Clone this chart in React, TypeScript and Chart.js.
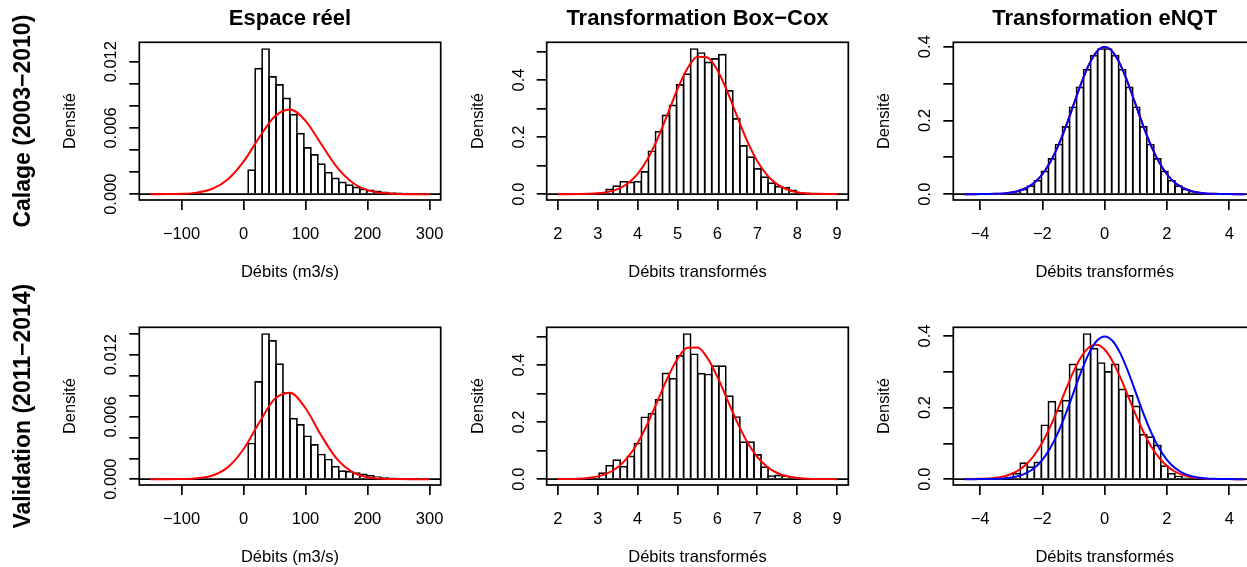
import React, { useEffect, useRef } from "react";
import { Chart, registerables } from "chart.js";

Chart.register(...registerables);

// ---------------- data ----------------
const colTitles = ["Espace réel", "Transformation Box−Cox", "Transformation eNQT"];
const xTitles = ["Débits (m3/s)", "Débits transformés", "Débits transformés"];
const rowLabels = ["Calage (2003−2010)", "Validation (2011−2014)"];
const yTitle = "Densité";

const realXTicks = [-100, 0, 100, 200, 300];
const bcXTicks = [2, 3, 4, 5, 6, 7, 8, 9];
const nqtXTicks = [-4, -2, 0, 2, 4];

const realCalYTicks = [0, 0.002, 0.004, 0.006, 0.008, 0.01, 0.012];
const realValYTicks = [0, 0.002, 0.004, 0.006, 0.008, 0.01, 0.012, 0.014];
const realYLabels = [0, 0.006, 0.012];
const bcYTicks = [0, 0.1, 0.2, 0.3, 0.4, 0.5];
const nqtYTicks = [0, 0.1, 0.2, 0.3, 0.4];
const unitYLabels = [0, 0.2, 0.4];

// histogram bins (start of first bin, width) and densities
const realBinWidth = 11.25;
const realCalBinStart = 7.5;
const realCalDensity = [
  0.00226, 0.01146, 0.01323, 0.01071, 0.00998, 0.00875, 0.00728, 0.00556, 0.00427, 0.00364,
  0.0028, 0.00202, 0.0015, 0.00114, 0.0009, 0.00069, 0.00051, 0.00042, 0.00033, 0.00024,
  0.00018, 0.00015, 0.00012, 0.00009, 0.00006, 0.00006,
];
const realValBinStart = -3.75;
const realValDensity = [
  0.00006, 0.00352, 0.00947, 0.01408, 0.01341, 0.01117, 0.00838, 0.00592, 0.00531, 0.00422,
  0.00339, 0.00246, 0.00198, 0.00128, 0.00086, 0.0008, 0.00067, 0.00054, 0.00042, 0.00029,
  0.00022, 0.00016, 0.00013, 0.0001, 0.0001, 0.00006, 0.00006,
];

const bcBinWidth = 0.1765;
const bcCalBinStart = 3.033;
const bcCalDensity = [
  0.005, 0.0198, 0.0314, 0.0465, 0.0442, 0.0465, 0.0814, 0.1535, 0.222, 0.279,
  0.314, 0.386, 0.424, 0.512, 0.498, 0.465, 0.477, 0.492, 0.365, 0.267,
  0.172, 0.1326, 0.0919, 0.0628, 0.0419, 0.029, 0.0256, 0.0163, 0.008, 0.006,
  0.005, 0.003, 0.003,
];
const bcValBinStart = 2.857;
const bcValDensity = [
  0.003, 0.0244, 0.05, 0.0698, 0.0465, 0.0826, 0.128, 0.22, 0.2326, 0.281,
  0.374, 0.355, 0.435, 0.512, 0.441, 0.373, 0.37, 0.399, 0.399, 0.294,
  0.221, 0.1326, 0.1326, 0.088, 0.045, 0.014, 0.016, 0.012, 0.006, 0.003,
  0.002, 0.002, 0.001,
];

const nqtBinWidth = 0.2258;
const nqtCalBinStart = -3.387;
const nqtCalDensity = [
  0.002, 0.0045, 0.008, 0.015, 0.024, 0.039, 0.064, 0.098, 0.137, 0.185,
  0.238, 0.292, 0.34, 0.378, 0.396, 0.396, 0.378, 0.34, 0.292, 0.238,
  0.185, 0.137, 0.098, 0.064, 0.039, 0.024, 0.015, 0.008, 0.0045, 0.002,
];
const nqtValBinStart = -3.613;
const nqtValDensity = [
  0.001, 0.003, 0.006, 0.0177, 0.047, 0.036, 0.049, 0.153, 0.219, 0.193,
  0.222, 0.323, 0.309, 0.408, 0.367, 0.327, 0.302, 0.323, 0.253, 0.235,
  0.206, 0.127, 0.12, 0.097, 0.039, 0.0177, 0.0093, 0.0047, 0.002, 0.001,
];

const realCurveX = [-150, -125, -100, -75, -50, -25, 0, 25, 50, 75, 100, 125, 150, 175, 200, 225, 250, 275, 300];
const realCalFit = [0, 0.00001, 0.00003, 0.00014, 0.00049, 0.00135, 0.00294, 0.0051, 0.00701, 0.00766, 0.00664, 0.00457, 0.00249, 0.00108, 0.00037, 0.0001, 0.00002, 0, 0];
const realValFit = [0, 0, 0.00001, 0.00008, 0.00035, 0.00116, 0.00288, 0.00542, 0.00772, 0.00834, 0.00684, 0.00425, 0.002, 0.00071, 0.00019, 0.00004, 0.00001, 0, 0];

const bcCurveX = [2, 2.25, 2.5, 2.75, 3, 3.25, 3.5, 3.75, 4, 4.25, 4.5, 4.75, 5, 5.25, 5.5, 5.75, 6, 6.25, 6.5, 6.75, 7, 7.25, 7.5, 7.75, 8, 8.25, 8.5, 8.75, 9];
const bcCalFit = [0.00003, 0.0001, 0.0004, 0.0011, 0.0031, 0.0077, 0.0178, 0.0372, 0.0708, 0.1229, 0.1946, 0.2807, 0.3688, 0.4418, 0.4822, 0.4794, 0.4345, 0.3588, 0.27, 0.1852, 0.1157, 0.0658, 0.0342, 0.0162, 0.007, 0.0027, 0.001, 0.0003, 0.0001];
const bcValFit = [0.0002, 0.0006, 0.0016, 0.0042, 0.0098, 0.0211, 0.0418, 0.076, 0.127, 0.195, 0.2748, 0.3554, 0.4222, 0.4606, 0.4614, 0.4244, 0.3585, 0.278, 0.198, 0.1295, 0.0777, 0.0429, 0.0217, 0.0101, 0.0043, 0.0017, 0.0006, 0.0002, 0.0001];

const nqtCurveX = [-4.5, -4.25, -4, -3.75, -3.5, -3.25, -3, -2.75, -2.5, -2.25, -2, -1.75, -1.5, -1.25, -1, -0.75, -0.5, -0.25, 0, 0.25, 0.5, 0.75, 1, 1.25, 1.5, 1.75, 2, 2.25, 2.5, 2.75, 3, 3.25, 3.5, 3.75, 4, 4.25, 4.5];
const nqtStdNormal = [0.00002, 0.00005, 0.0001, 0.0004, 0.0009, 0.002, 0.0044, 0.0091, 0.0175, 0.0317, 0.054, 0.0863, 0.1295, 0.1826, 0.242, 0.3011, 0.3521, 0.3867, 0.3989, 0.3867, 0.3521, 0.3011, 0.242, 0.1826, 0.1295, 0.0863, 0.054, 0.0317, 0.0175, 0.0091, 0.0044, 0.002, 0.0009, 0.0004, 0.0001, 0.00005, 0.00002];
const nqtValFit = [0.00014, 0.00036, 0.00083, 0.0018, 0.0039, 0.0077, 0.0144, 0.0256, 0.043, 0.0683, 0.1026, 0.1459, 0.1963, 0.2497, 0.3006, 0.3422, 0.3687, 0.3757, 0.3622, 0.3303, 0.285, 0.2326, 0.1796, 0.1312, 0.0906, 0.0592, 0.0366, 0.0214, 0.0119, 0.0062, 0.0031, 0.0014, 0.0006, 0.0003, 0.0001, 0.00004, 0.00001];

// ---------------- layout / style ----------------
const RED = "#FF0000";
const BLUE = "#0000FF";
const FAM = '"Liberation Sans", Arial, Helvetica, sans-serif';
const AX_FONT = 16.5;
const LW = 1.7;
const TICK_LEN = 10;

const COLS = [
  { cx: 0, cw: 475, L: 139.3, R: 440.7 },
  { cx: 445, cw: 437, L: 546.7, R: 848.3 },
  { cx: 852, cw: 450, L: 953.3, R: 1256 },
];
const ROWS = [
  { cy: 0, ch: 285, T: 42.3, B: 200 },
  { cy: 285, ch: 282, T: 327.3, B: 485 },
];

type Curve = { y: number[]; color: string };
type Spec = {
  key: string;
  col: number;
  row: number;
  binStart: number;
  binWidth: number;
  density: number[];
  curveX: number[];
  curves: Curve[];
  xTicks: number[];
  yTicks: number[];
  yLabels: number[];
  yDigits: number;
};

const panels: Spec[] = [
  { key: "p1", col: 0, row: 0, binStart: realCalBinStart, binWidth: realBinWidth, density: realCalDensity, curveX: realCurveX, curves: [{ y: realCalFit, color: RED }], xTicks: realXTicks, yTicks: realCalYTicks, yLabels: realYLabels, yDigits: 3 },
  { key: "p2", col: 1, row: 0, binStart: bcCalBinStart, binWidth: bcBinWidth, density: bcCalDensity, curveX: bcCurveX, curves: [{ y: bcCalFit, color: RED }], xTicks: bcXTicks, yTicks: bcYTicks, yLabels: unitYLabels, yDigits: 1 },
  { key: "p3", col: 2, row: 0, binStart: nqtCalBinStart, binWidth: nqtBinWidth, density: nqtCalDensity, curveX: nqtCurveX, curves: [{ y: nqtStdNormal, color: RED }, { y: nqtStdNormal, color: BLUE }], xTicks: nqtXTicks, yTicks: nqtYTicks, yLabels: unitYLabels, yDigits: 1 },
  { key: "p4", col: 0, row: 1, binStart: realValBinStart, binWidth: realBinWidth, density: realValDensity, curveX: realCurveX, curves: [{ y: realValFit, color: RED }], xTicks: realXTicks, yTicks: realValYTicks, yLabels: realYLabels, yDigits: 3 },
  { key: "p5", col: 1, row: 1, binStart: bcValBinStart, binWidth: bcBinWidth, density: bcValDensity, curveX: bcCurveX, curves: [{ y: bcValFit, color: RED }], xTicks: bcXTicks, yTicks: bcYTicks, yLabels: unitYLabels, yDigits: 1 },
  { key: "p6", col: 2, row: 1, binStart: nqtValBinStart, binWidth: nqtBinWidth, density: nqtValDensity, curveX: nqtCurveX, curves: [{ y: nqtValFit, color: RED }, { y: nqtStdNormal, color: BLUE }], xTicks: nqtXTicks, yTicks: nqtYTicks, yLabels: unitYLabels, yDigits: 1 },
];

const fmtMinus = (v: number, digits?: number) => {
  const s = digits === undefined ? String(v) : v.toFixed(digits);
  return s.replace("-", "\u2212");
};

function rotText(ctx: CanvasRenderingContext2D, text: string, x: number, y: number, font: string) {
  ctx.save();
  ctx.translate(x, y);
  ctx.rotate(-Math.PI / 2);
  ctx.font = font;
  ctx.textAlign = "center";
  ctx.textBaseline = "alphabetic";
  ctx.fillText(text, 0, 0);
  ctx.restore();
}

function Panel({ spec }: { spec: Spec }) {
  const ref = useRef<HTMLCanvasElement>(null);
  const C = COLS[spec.col];
  const Rw = ROWS[spec.row];

  useEffect(() => {
    const canvas = ref.current;
    if (!canvas) return;

    const cx0 = spec.curveX[0];
    const cx1 = spec.curveX[spec.curveX.length - 1];
    const xmin = cx0 - 0.04 * (cx1 - cx0);
    const xmax = cx1 + 0.04 * (cx1 - cx0);
    const M = Math.max(...spec.density);
    const ymin = -0.04 * M;
    const ymax = 1.04 * M;

    const binPx = (spec.binWidth * (C.R - C.L)) / (xmax - xmin);
    const barPct = (binPx + LW) / binPx;

    const bars = spec.density.map((h, i) => ({ x: spec.binStart + spec.binWidth * (i + 0.5), y: h }));

    const curveSets = spec.curves.map((c, i) => ({
      type: "line" as const,
      data: spec.curveX.map((x, j) => ({ x, y: c.y[j] })),
      borderColor: c.color,
      borderWidth: 2,
      pointRadius: 0,
      fill: false,
      cubicInterpolationMode: "monotone" as const,
      order: 5 - i,
    }));

    const rPlugin = {
      id: "rstyle" + spec.key,
      beforeDatasetsDraw(chart: any) {
        const { ctx, chartArea: a, scales } = chart;
        const y0 = scales.y.getPixelForValue(0);
        ctx.save();
        ctx.strokeStyle = "#000";
        ctx.lineWidth = LW;
        ctx.beginPath();
        ctx.moveTo(a.left, y0);
        ctx.lineTo(a.right, y0);
        ctx.stroke();
        ctx.restore();
      },
      afterDraw(chart: any) {
        const { ctx, chartArea: a, scales } = chart;
        const xs = scales.x;
        const ys = scales.y;
        const axFont = `${AX_FONT}px ${FAM}`;
        ctx.save();
        ctx.strokeStyle = "#000";
        ctx.fillStyle = "#000";
        ctx.lineWidth = LW;
        ctx.strokeRect(a.left, a.top, a.right - a.left, a.bottom - a.top);

        ctx.font = axFont;
        ctx.textAlign = "center";
        ctx.textBaseline = "alphabetic";
        for (const t of xs.ticks) {
          ctx.fillText(fmtMinus(t.value), xs.getPixelForValue(t.value), a.bottom + 39);
        }
        for (const v of spec.yLabels) {
          rotText(ctx, fmtMinus(v, spec.yDigits), a.left - 23, ys.getPixelForValue(v), axFont);
        }
        rotText(ctx, yTitle, a.left - 64, (a.top + a.bottom) / 2, axFont);

        ctx.font = axFont;
        ctx.textAlign = "center";
        ctx.fillText(xTitles[spec.col], (a.left + a.right) / 2, a.bottom + 77);

        if (spec.row === 0) {
          ctx.font = `bold 22px ${FAM}`;
          ctx.fillText(colTitles[spec.col], (a.left + a.right) / 2, a.top - 17);
        }
        if (spec.col === 0) {
          rotText(ctx, rowLabels[spec.row], 30 - C.cx, (a.top + a.bottom) / 2, `bold 23px ${FAM}`);
        }
        ctx.restore();
      },
    };

    const chart = new Chart(canvas, {
      type: "bar",
      data: {
        datasets: [
          ...curveSets,
          {
            type: "bar" as const,
            data: bars,
            backgroundColor: "rgba(0,0,0,0)",
            borderColor: "#000",
            borderWidth: LW,
            borderSkipped: "start",
            barPercentage: barPct,
            categoryPercentage: 1,
            order: 10,
          },
        ] as any,
      },
      options: {
        responsive: false,
        maintainAspectRatio: false,
        animation: false,
        events: [],
        layout: {
          padding: {
            left: C.L - C.cx - TICK_LEN,
            right: C.cx + C.cw - C.R,
            top: Rw.T - Rw.cy,
            bottom: Rw.cy + Rw.ch - Rw.B - TICK_LEN,
          },
        },
        plugins: {
          legend: { display: false },
          tooltip: { enabled: false },
          title: { display: false },
        },
        scales: {
          x: {
            type: "linear",
            position: "bottom",
            min: xmin,
            max: xmax,
            offset: false,
            ticks: { display: false },
            grid: {
              offset: false,
              drawOnChartArea: false,
              drawTicks: true,
              tickLength: TICK_LEN,
              color: "#000",
              lineWidth: LW,
            },
            border: { display: false },
            afterBuildTicks: (s: any) => {
              s.ticks = spec.xTicks.map((v) => ({ value: v }));
            },
            afterFit: (s: any) => {
              s.height = TICK_LEN;
            },
          },
          y: {
            type: "linear",
            position: "left",
            min: ymin,
            max: ymax,
            beginAtZero: false,
            ticks: { display: false },
            grid: {
              drawOnChartArea: false,
              drawTicks: true,
              tickLength: TICK_LEN,
              color: "#000",
              lineWidth: LW,
            },
            border: { display: false },
            afterBuildTicks: (s: any) => {
              s.ticks = spec.yTicks.map((v) => ({ value: v }));
            },
            afterFit: (s: any) => {
              s.width = TICK_LEN;
            },
          },
        },
      } as any,
      plugins: [rPlugin],
    });
    return () => chart.destroy();
  }, [spec]);

  return (
    <canvas
      ref={ref}
      width={C.cw}
      height={Rw.ch}
      style={{ position: "absolute", left: C.cx, top: Rw.cy, width: C.cw, height: Rw.ch }}
    />
  );
}

export default function App() {
  return (
    <div
      style={{
        position: "absolute",
        left: 0,
        top: 0,
        width: 1247,
        height: 567,
        overflow: "hidden",
        background: "#fff",
      }}
    >
      {panels.map((p) => (
        <Panel key={p.key} spec={p} />
      ))}
    </div>
  );
}
